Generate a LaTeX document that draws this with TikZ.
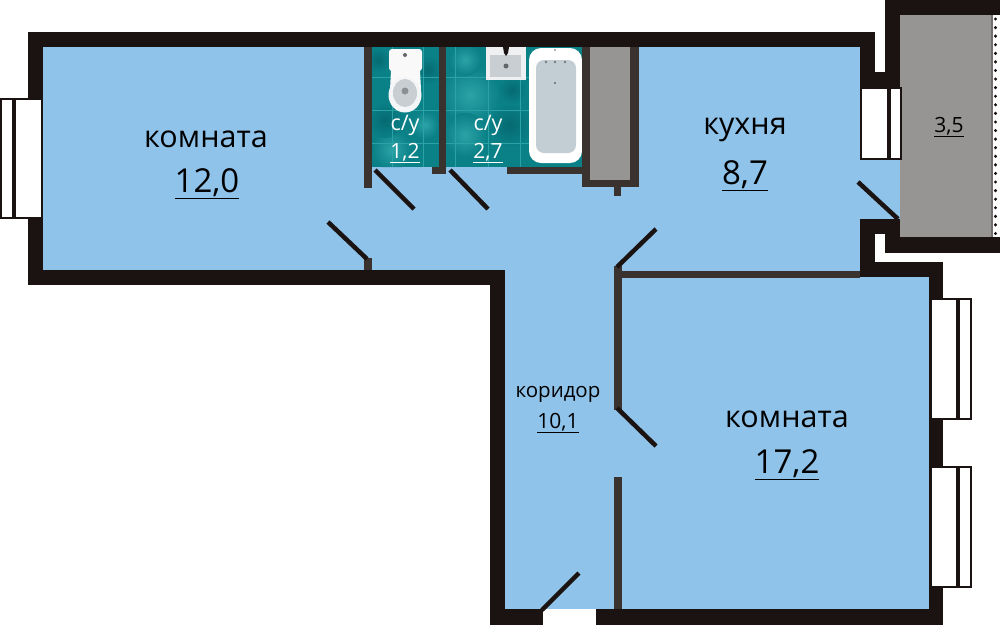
\documentclass[tikz,border=0pt]{standalone}
\usepackage{fontspec}
\setmainfont{Open Sans}
\definecolor{floorblue}{HTML}{90C3EA}
\definecolor{wallout}{HTML}{1A1311}
\definecolor{wallin}{HTML}{3A322E}
\definecolor{balcgray}{HTML}{969594}
\definecolor{tiletl}{HTML}{0A8087}
\definecolor{tilelt}{HTML}{2BA3A6}
\definecolor{tiledk}{HTML}{066A71}
\definecolor{sanw}{HTML}{C9CED2}
\tikzset{
  outw/.style={fill=wallout},
  inw/.style={fill=wallin},
  doorl/.style={draw=wallout,line width=4.5pt},
  framew/.style={draw=wallout,fill=white,line width=2pt},
  bigtxt/.style={text=black,font=\fontsize{30.5}{32}\selectfont,inner sep=0pt},
  bignum/.style={text=black,font=\fontsize{33}{36}\selectfont,inner sep=0pt},
  smalltxt/.style={text=black,font=\fontsize{20.5}{22}\selectfont,inner sep=0pt},
  smallnum/.style={text=black,font=\fontsize{21}{22}\selectfont,inner sep=0pt},
  whitetxt/.style={text=white,font=\fontsize{21.5}{22}\selectfont,inner sep=0pt},
}
\begin{document}
\begin{tikzpicture}[x=1pt,y=-1pt]
\useasboundingbox (0,0) rectangle (1000,625);
% floor
\fill[floorblue] (43,47) rectangle (860,270);
\fill[floorblue] (505,270) rectangle (929,609);
\fill[floorblue] (860,87) rectangle (900,219);
% balcony
\fill[balcgray] (900,15) rectangle (991,237);
\fill[wallin!70] (991,15) rectangle (993,237);
\foreach \i in {0,...,25}
  \fill[wallout] (995.5,{19+8.58*\i}) circle (1.7);
% tiles
\begin{scope}
\clip (372,47) rectangle (439,167) (446,47) rectangle (582,167);
\fill[tiletl] (372,47) rectangle (582,167);
\shade[inner color=tilelt,outer color=tiletl] (470,95) circle (30);
\shade[inner color=tilelt,outer color=tiletl] (392,150) circle (20);
\shade[inner color=tilelt,outer color=tiletl] (465,135) circle (22);
\shade[inner color=tilelt,outer color=tiletl] (465,60) circle (16);
\shade[inner color=tilelt,outer color=tiletl] (425,125) circle (14);
\shade[inner color=tiledk,outer color=tiletl] (510,125) circle (22);
\shade[inner color=tiledk,outer color=tiletl] (385,120) circle (18);
\shade[inner color=tiledk,outer color=tiletl] (428,70) circle (14);
\shade[inner color=tiledk,outer color=tiletl] (378,60) circle (12);
\shade[inner color=tiledk,outer color=tiletl] (512,90) circle (14);
\foreach \yy in {77,110,143}
  \draw[tilelt,line width=0.7pt] (372,\yy) -- (582,\yy);
\foreach \xx in {392,423,455,488,520}
  \draw[tilelt,line width=0.7pt] (\xx,47) -- (\xx,167);
\end{scope}
% toilet
\fill[white!88!sanw,rounded corners=3pt] (389,49) rectangle (422,71);
\fill[white!88!sanw] (391,70) -- (420,70) -- (421,90) -- (390,90) -- cycle;
\fill[white!80!sanw] (405,95) ellipse (16.5 and 17.5);
\fill[sanw] (405,93) ellipse (12 and 14);
\fill[sanw!70!black] (405,91) circle (3.5);
\fill[sanw!50!black] (405,55) circle (2);
% sink
\fill[white!70!sanw] (486,47) rectangle (526,80);
\fill[sanw] (490,55) -- (521,55) -- (521,77) -- (490,77) -- cycle;
\fill[wallout] (503,47) -- (509,47) -- (508,53) -- (506,56) -- (504,53) -- cycle;
\fill[sanw!50!black] (506,66) circle (2.5);
% bath
\fill[white,rounded corners=12pt] (529,48) rectangle (582,163);
\fill[sanw!90!floorblue,rounded corners=8pt] (536,60) rectangle (576,153);
\fill[sanw!50!black] (555,50) circle (0.9);
\fill[sanw!50!black] (555,83) circle (1.2);
\foreach \xx in {546,555,565}
  \fill[sanw!60!black] (\xx,62) circle (1.3);
% outer walls
\fill[outw] (28,32) rectangle (875,47);
\fill[outw] (28,32) rectangle (43,285);
\fill[outw] (28,270) rectangle (505,285);
\fill[outw] (490,270) rectangle (505,625);
\fill[outw] (490,609) rectangle (543,625);
\fill[outw] (596,609) rectangle (943,625);
\fill[outw] (929,262) rectangle (943,625);
\fill[outw] (860,262) rectangle (943,277);
\fill[outw] (860,234) rectangle (875,262);
\fill[outw] (860,219) rectangle (900,234);
\fill[outw] (885,219) rectangle (900,253);
\fill[outw] (885,237) rectangle (1000,253);
\fill[outw] (885,0) rectangle (1000,15);
\fill[outw] (885,0) rectangle (900,87);
\fill[outw] (860,72) rectangle (900,87);
\fill[outw] (860,32) rectangle (875,87);
% inner walls
\fill[inw] (364,47) rectangle (372,188);
\fill[inw] (439,47) rectangle (446,174);
\fill[inw] (432,167) rectangle (446,174);
\fill[inw] (507,167) rectangle (582,174);
\fill[inw] (582,47) rectangle (590,187);
\fill[inw] (630,47) rectangle (639,187);
\fill[inw] (582,180) rectangle (639,187);
\fill[balcgray] (590,47) rectangle (630,180);
\fill[inw] (614,187) rectangle (621,196);
\fill[inw] (364,258) rectangle (372,270);
\fill[inw] (614,266) rectangle (622,410);
\fill[inw] (614,271) rectangle (860,278);
\fill[inw] (614,477) rectangle (622,609);
% windows
\draw[framew] (1,99) rectangle (42,218);
\fill[wallout] (12,99) rectangle (16,218);
\draw[framew] (861,88) rectangle (901,159);
\fill[wallout] (887,88) rectangle (891,159);
\foreach \yy in {299,467} {
  \draw[framew] (931,\yy) rectangle (971,{\yy+120});
  \fill[wallout] (956,\yy) rectangle (960,{\yy+120});
}
% doors
\coordinate (dA1) at (367,259); \coordinate (dA2) at (328,222);
\coordinate (dB1) at (375,170); \coordinate (dB2) at (414,209);
\coordinate (dC1) at (450,170); \coordinate (dC2) at (488,209);
\coordinate (dD1) at (898,219); \coordinate (dD2) at (858,182);
\coordinate (dE1) at (617,267); \coordinate (dE2) at (656,229);
\coordinate (dF1) at (617,408); \coordinate (dF2) at (656,446);
\coordinate (dG1) at (542,610); \coordinate (dG2) at (579,573);
\foreach \dn in {dA,dB,dC,dD,dE,dF,dG}
  \draw[doorl] (\dn1) -- (\dn2);
% labels
\node[bigtxt] (room1) at (206,139) {комната};
\node[bignum] (room1a) at (207,184) {\underline{12,0}};
\node[bigtxt] (kitchen) at (745,130) {кухня};
\node[bignum] (kitchena) at (745,176) {\underline{8,7}};
\node[bigtxt] (room2) at (787,419) {комната};
\node[bignum] (room2a) at (787,465) {\underline{17,2}};
\node[smalltxt] (hall) at (558,394) {коридор};
\node[smallnum] (halla) at (558,423) {\underline{10,1}};
\node[whitetxt] (wc1) at (405,125) {с/у};
\node[smallnum,text=white] (wc1a) at (405,153) {\underline{1,2}};
\node[whitetxt] (wc2) at (488,125) {с/у};
\node[smallnum,text=white] (wc2a) at (488,153) {\underline{2,7}};
\node[smallnum] (balc) at (949,127) {\underline{3,5}};
\end{tikzpicture}
\end{document}
